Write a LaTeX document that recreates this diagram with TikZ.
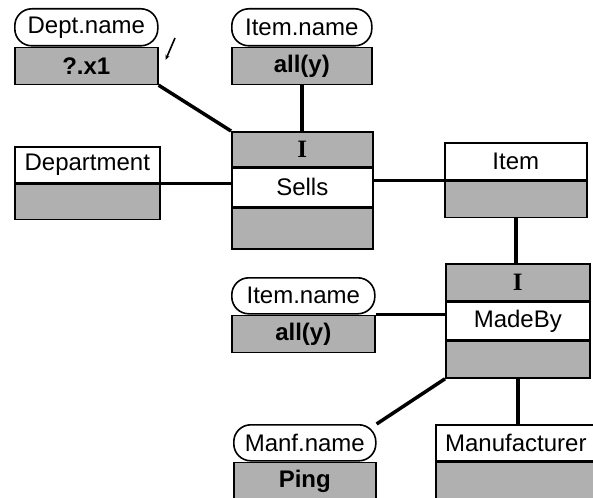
\documentclass[tikz,border=0pt]{standalone}
\usepackage{fontspec}
\setmainfont{Liberation Sans}
\newfontfamily\iconfont{Liberation Serif}
\usetikzlibrary{positioning,arrows.meta}
\definecolor{stipple}{RGB}{176,176,176}

\tikzset{
  box/.style={draw, line width=1.6pt, inner sep=0pt, anchor=north west,
    minimum height=37pt, font=\fontsize{24}{27}\selectfont},
  namebox/.style={box, rounded corners=17pt, fill=white},
  entbox/.style={box, fill=white},
  shadebox/.style={box, fill=stipple, font=\bfseries\fontsize{24}{27}\selectfont},
  iconbox/.style={shadebox, font=\iconfont\bfseries\fontsize{25}{27}\selectfont},
  link/.style={line width=3.5pt},
}

\begin{document}
\begin{tikzpicture}[x=1pt,y=-1pt]
  \useasboundingbox (0,0) rectangle (593,497);
  \clip (0,0) rectangle (593,497);

  % condition boxes
  \node[namebox, minimum width=143pt] (deptname) at (14,8) {Dept.name};
  \node[shadebox, minimum width=143pt] (deptval) at (deptname.south west) {?.x1};
  \node[namebox, minimum width=140pt] (itemname) at (231,8) {Item.name};
  \node[shadebox, minimum width=140pt] (itemval) at (itemname.south west) {all(y)};

  % Department
  \node[entbox, minimum width=145pt, minimum height=36pt] (dept) at (14,146) {Department};
  \node[shadebox, minimum width=145pt, minimum height=35pt] (deptbot) at (dept.south west) {};

  % Sells
  \node[iconbox, minimum width=141pt, minimum height=35pt] (sellstop) at (231,131) {I};
  \node[entbox, minimum width=141pt, minimum height=38pt] (sells) at (sellstop.south west) {Sells};
  \node[shadebox, minimum width=141pt, minimum height=41pt] (sellsbot) at (sells.south west) {};

  % Item
  \node[entbox, minimum width=142pt] (item) at (444,142) {Item};
  \node[shadebox, minimum width=142pt, minimum height=36pt] (itembot) at (item.south west) {};

  % MadeBy
  \node[iconbox, minimum width=144pt] (madetop) at (445,263) {I};
  \node[entbox, minimum width=144pt] (madeby) at (madetop.south west) {MadeBy};
  \node[shadebox, minimum width=144pt] (madebot) at (madeby.south west) {};

  \node[namebox, minimum width=143pt, minimum height=36pt] (itemname2) at (231,277) {Item.name};
  \node[shadebox, minimum width=143pt] (itemval2) at (itemname2.south west) {all(y)};

  % Manufacturer
  \node[namebox, minimum width=142pt, minimum height=36pt] (manfname) at (233,424) {Manf.name};
  \node[shadebox, minimum width=142pt] (manfval) at (manfname.south west) {Ping};
  \node[entbox, minimum width=160pt, minimum height=36pt] (manuf) at (435,424) {Manufacturer};
  \node[shadebox, minimum width=160pt] (manufbot) at (manuf.south west) {};

  % links
  \draw[link] (deptval.south east) -- (sellstop.north west);
  \draw[link] (itemval.south) -- (itemval.south |- sellstop.north);
  \draw[link] (dept.south east) -- (dept.south east -| sells.west);
  \draw[link] (item.south west -| sells.east) -- (item.south west);
  \draw[link] (itembot.south) -- (itembot.south |- madetop.north);
  \draw[link] (itemname2.south east) -- (itemname2.south east -| madeby.west);
  \draw[link] (madebot.south west) -- (manfname.north east);
  \draw[link] (madebot.south) -- (madebot.south |- manuf.north);

  % pointer mark
  \coordinate (tick) at (175,38);
  \draw[line width=1.6pt, -{Stealth[length=5pt,width=4pt]}] (tick) -- ([xshift=7pt,yshift=6pt]deptval.east);
\end{tikzpicture}
\end{document}
